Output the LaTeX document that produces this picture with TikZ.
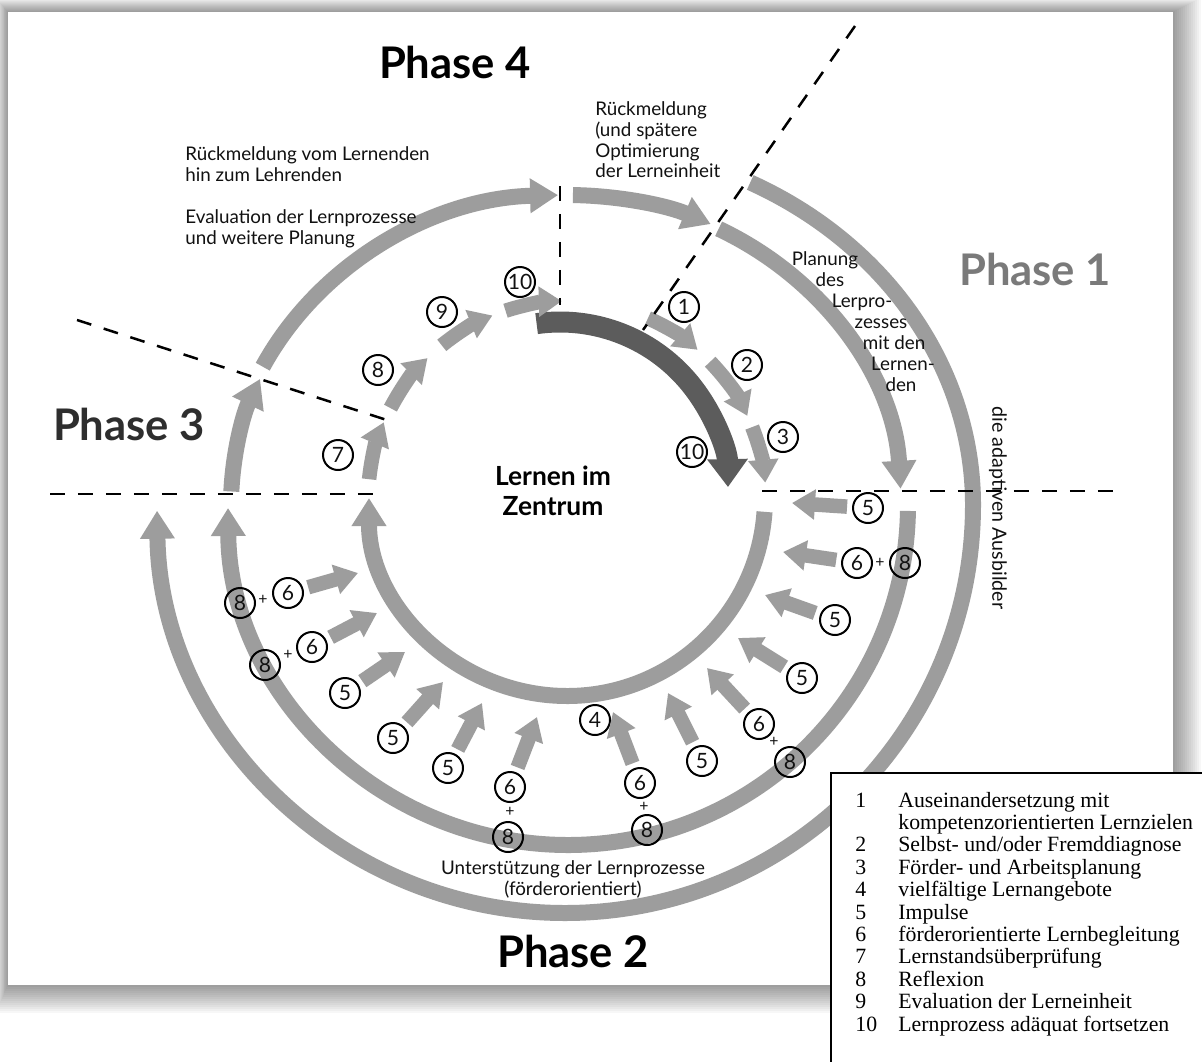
\documentclass[tikz,border=0pt]{standalone}
\usepackage{fontspec}
\setmainfont{Lato}
\newfontfamily\legendfont{Liberation Serif}
\usetikzlibrary{arrows.meta}
\definecolor{ringgray}{HTML}{9D9D9D}
\definecolor{darkarrow}{HTML}{5C5C5C}
\definecolor{phaseone}{HTML}{7A7A7A}
\definecolor{phasethree}{HTML}{2E2E2E}
\definecolor{inkblack}{HTML}{111111}
\begin{document}
\begin{tikzpicture}[x=0.02cm,y=-0.02cm,
  ring/.style={draw=ringgray, line width=0.32cm},
  ringtip/.style={-{Triangle[length=0.56cm,width=0.66cm]}},
  small/.style={draw=ringgray, line width=0.29cm, shorten <=0.1cm, -{Triangle[length=0.46cm,width=0.58cm]}},
  arcsmall/.style={draw=ringgray, line width=0.29cm, -{Triangle[length=0.46cm,width=0.58cm]}},
  num/.style={circle, draw=black, line width=0.04cm, minimum size=0.6cm, inner sep=0pt, text=inkblack, font=\fontsize{12}{14}\selectfont},
  plus/.style={inner sep=0pt, text=inkblack, font=\fontsize{9}{10}\selectfont},
  sep/.style={draw=black, line width=0.05cm, dash pattern=on 0.3cm off 0.26cm},
  phase/.style={anchor=base, inner sep=0pt, font=\fontsize{24.8}{28}\selectfont\bfseries},
  lbl/.style={anchor=base west, inner sep=0pt, text=inkblack, font=\fontsize{10.7}{12}\selectfont},
  clbl/.style={anchor=base, inner sep=0pt, text=inkblack, font=\fontsize{10.7}{12}\selectfont},
  leg/.style={anchor=base west, inner sep=0pt, font=\legendfont\fontsize{12.4}{13}\selectfont},
]
\useasboundingbox (0,0) rectangle (1202,1061);
\clip (0,0) rectangle (1202,1061);
\fill[white] (0,0) rectangle (1202,1061);
% page shadow
\foreach \i in {1,...,14}
  \fill[black, opacity=0.03] (8-0.9*\i,12-1.0*\i) rectangle (1173+2*\i,985+2*\i);
\node[fill=white, inner sep=0pt, anchor=north west, minimum width=23.3cm, minimum height=19.46cm] (page) at (8,12) {};

% centres
\coordinate (M) at (567,505);
\coordinate (O) at (565,505);
\coordinate (L) at (568,505);
\coordinate (I) at (567,498);
\coordinate (J) at (567,500);
\coordinate (D) at (560,490);

% outer ring
\draw[ring, ringtip] (O) ++(297:408 and 362) arc[start angle=297, end angle=360, x radius=408, y radius=362]
  arc[start angle=0, end angle=179.2, radius=408];
% middle ring, upper arcs
\draw[ring, ringtip] (M) ++(182.5:336 and 310) arc[start angle=182.5, end angle=204, x radius=336, y radius=310];
\draw[ring, ringtip] (M) ++(206.5:340 and 310) arc[start angle=206.5, end angle=268.5, x radius=340, y radius=310];
\draw[ring, ringtip] (M) ++(271:340 and 310) arc[start angle=271, end angle=295, x radius=340, y radius=310];
\draw[ring, ringtip] (M) ++(297:334 and 310) arc[start angle=297, end angle=357, x radius=334, y radius=310];
% middle ring, lower
\draw[ring, ringtip] (L) ++(1:340) arc[start angle=1, end angle=179.5, radius=340];
% inner ring, lower
\draw[ring, ringtip] (I) ++(4:198) arc[start angle=4, end angle=180, radius=198];
% dark arrow
\draw[draw=darkarrow, line width=0.42cm, -{Triangle[length=0.56cm,width=0.78cm]}] (D) ++(-98:168) arc[start angle=-98, end angle=-1, radius=168];
% inner upper arrows
\foreach \a/\b in {186/203, 207.5/225.5, 231/248, 252/268.5, 294/311, 316/335, 338.5/355}
  \draw[arcsmall] (J) ++(\a:199) arc[start angle=\a, end angle=\b, radius=199];

% dashed separators
\draw[sep] (50,494) -- (374,494);
\draw[sep] (762,491) -- (1118,491);
\draw[sep] (560,186) -- (560,305);
\draw[sep] (855,26) -- (643,330);
\draw[sep] (77,320) -- (393,422);

% upper numbers
\node[num] (u1) at (684,307) {1};
\node[num] (u2) at (747,365) {2};
\node[num] (u3) at (783,437) {3};
\node[num] (u10b) at (692,452) {10};
\node[num] (u10a) at (520,282) {10};
\node[num] (u9) at (442,312) {9};
\node[num] (u8) at (378,370) {8};
\node[num] (u7) at (338,455) {7};

% lower arrows with labels (right side)
\node[num] (ra) at (868,508) {5};
\coordinate (ta) at (792,503);
\draw[small] (ra) -- (ta);
\node[num] (rb) at (857,563) {6};
\node[plus] (rbp) at (880,563) {+};
\node[num] (rb8) at (905,563) {8};
\coordinate (tb) at (783,552);
\draw[small] (rb) -- (tb);
\node[num] (rc) at (835,620) {5};
\coordinate (tc) at (765,595);
\draw[small] (rc) -- (tc);
\node[num] (rd) at (802,678) {5};
\coordinate (td) at (738,638);
\draw[small] (rd) -- (td);
\node[num] (re) at (759,724) {6};
\node[plus] (rep) at (774,742) {+};
\node[num] (re8) at (790,762) {8};
\coordinate (te) at (707,668);
\draw[small] (re) -- (te);
\node[num] (rf) at (702,761) {5};
\coordinate (tf) at (668,693);
\draw[small] (rf) -- (tf);
\node[num] (rg4) at (595,720) {4};
\node[num] (rg) at (640,783) {6};
\node[plus] (rgp) at (644,807) {+};
\node[num] (rg8) at (647,830) {8};
\coordinate (tg) at (613,712);
\draw[small] (rg) -- (tg);
% left side
\node[num] (lh) at (288,593) {6};
\node[plus] (lhp) at (263,600) {+};
\node[num] (lh8) at (240,603) {8};
\coordinate (th) at (358,573);
\draw[small] (lh) -- (th);
\node[num] (li) at (312,647) {6};
\node[plus] (lip) at (288,655) {+};
\node[num] (li8) at (265,665) {8};
\coordinate (ti) at (377,613);
\draw[small] (li) -- (ti);
\node[num] (lj) at (345,693) {5};
\coordinate (tj) at (405,652);
\draw[small] (lj) -- (tj);
\node[num] (lk) at (393,738) {5};
\coordinate (tk) at (443,682);
\draw[small] (lk) -- (tk);
\node[num] (ll) at (448,768) {5};
\coordinate (tl) at (482,703);
\draw[small] (ll) -- (tl);
\node[num] (lm) at (510,787) {6};
\node[plus] (lmp) at (510,812) {+};
\node[num] (lm8) at (508,837) {8};
\coordinate (tm) at (537,717);
\draw[small] (lm) -- (tm);

% phase titles
\node[phase, text=black] (p4) at (455,79) {Phase 4};
\node[phase, text=phaseone] (p1) at (1035,285) {Phase 1};
\node[phase, text=phasethree] (p3) at (129,440) {Phase 3};
\node[phase, text=black] (p2) at (573,967) {Phase 2};

% centre
\node[anchor=base, inner sep=0pt, font=\fontsize{15}{17}\selectfont\bfseries] (z1) at (553,485) {Lernen im};
\node[anchor=base, inner sep=0pt, font=\fontsize{15}{17}\selectfont\bfseries] (z2) at (553,515) {Zentrum};

% labels
\node[lbl] (t1) at (185,160) {Rückmeldung vom Lernenden};
\node[lbl] (t2) at (185,181) {hin zum Lehrenden};
\node[lbl] (t3) at (185,223) {Evaluation der Lernprozesse};
\node[lbl] (t4) at (185,244) {und weitere Planung};
\node[lbl] (r1) at (595,115) {Rückmeldung};
\node[lbl] (r2) at (595,136) {(und spätere};
\node[lbl] (r3) at (595,157) {Optimierung};
\node[lbl] (r4) at (595,177) {der Lerneinheit};
\node[clbl] (q1) at (825,265) {Planung};
\node[clbl] (q2) at (830,286) {des};
\node[clbl] (q3) at (862,307) {Lerpro-};
\node[clbl] (q4) at (881,328) {zesses};
\node[clbl] (q5) at (894,349) {mit den};
\node[clbl] (q6) at (903,370) {Lernen-};
\node[clbl] (q7) at (901,391) {den};
\node[clbl] (s1) at (573,874) {Unterstützung der Lernprozesse};
\node[clbl] (s2) at (573,895) {(förderorientiert)};
\node[rotate=-90, inner sep=0pt, text=inkblack, font=\fontsize{11.2}{12}\selectfont] (ab) at (998,508) {die adaptiven Ausbilder};

% legend
\node[draw=black, fill=white, line width=0.04cm, anchor=north west, minimum width=8cm, minimum height=6.5cm, inner sep=0pt] (legend) at (830,772) {};
\foreach \k/\n/\t in {0/1/{Auseinandersetzung mit}, 1//{kompetenzorientierten Lernzielen}, 2/2/{Selbst- und/oder Fremddiagnose}, 3/3/{Förder- und Arbeitsplanung}, 4/4/{vielfältige Lernangebote}, 5/5/{Impulse}, 6/6/{förderorientierte Lernbegleitung}, 7/7/{Lernstandsüberprüfung}, 8/8/{Reflexion}, 9/9/{Evaluation der Lerneinheit}, 10/10/{Lernprozess adäquat fortsetzen}}
{
  \node[leg] (ln\k) at (855,807+22.4*\k) {\n};
  \node[leg] (lt\k) at (898,807+22.4*\k) {\t};
}
\end{tikzpicture}
\end{document}
